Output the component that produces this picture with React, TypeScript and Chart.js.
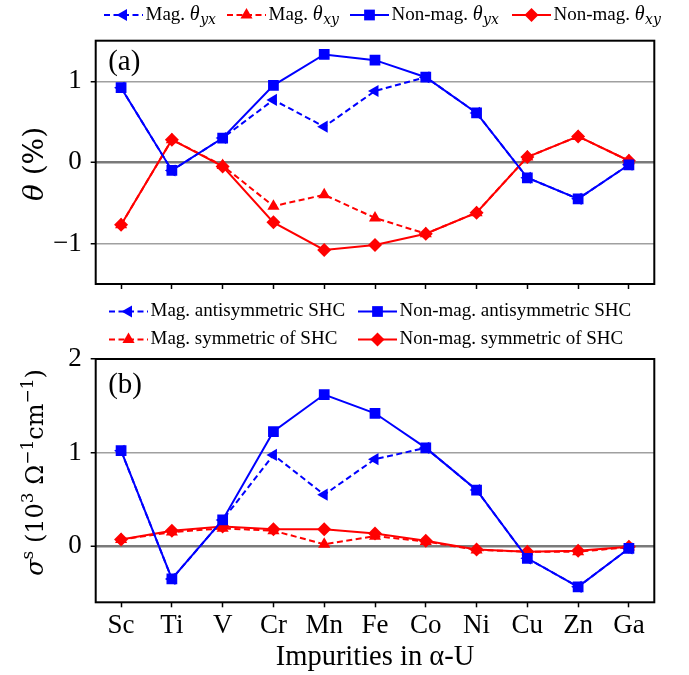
import React, { useEffect, useRef } from 'react';
import { Chart, registerables } from 'chart.js';

Chart.register(...registerables);

// ---------- data ----------
const categories = ['Sc', 'Ti', 'V', 'Cr', 'Mn', 'Fe', 'Co', 'Ni', 'Cu', 'Zn', 'Ga'];

// panel (a): theta (%)
const magThetaYX = [0.92, -0.1, 0.3, 0.77, 0.44, 0.88, 1.05, 0.61, -0.19, -0.45, -0.03];
const magThetaXY = [-0.77, 0.28, -0.04, -0.54, -0.4, -0.685, -0.88, -0.62, 0.066, 0.32, 0.02];
const nonMagThetaYX = [0.92, -0.1, 0.3, 0.95, 1.33, 1.26, 1.05, 0.61, -0.19, -0.45, -0.03];
const nonMagThetaXY = [-0.77, 0.28, -0.05, -0.74, -1.08, -1.02, -0.88, -0.62, 0.066, 0.32, 0.02];

// panel (b): SHC (10^3 Ohm^-1 cm^-1)
const magAntiSHC = [1.02, -0.35, 0.28, 0.975, 0.55, 0.93, 1.05, 0.6, -0.13, -0.435, -0.025];
const magSymSHC = [0.07, 0.15, 0.19, 0.165, 0.02, 0.107, 0.05, -0.04, -0.06, -0.06, -0.01];
const nonMagAntiSHC = [1.02, -0.35, 0.28, 1.225, 1.62, 1.42, 1.05, 0.6, -0.13, -0.435, -0.025];
const nonMagSymSHC = [0.07, 0.165, 0.21, 0.18, 0.18, 0.135, 0.057, -0.036, -0.06, -0.05, -0.007];

const thetaTicks = [-1, 0, 1];
const shcTicks = [0, 1, 2];

// ---------- styling ----------
const BLUE = '#0000ff';
const RED = '#ff0000';
const SERIF = '"Liberation Serif", "Times New Roman", serif';
const MATH = '"DejaVu Serif", serif';
const DASH = [6, 3.5];

type Seg = { t: string; it?: boolean; sub?: boolean; sup?: boolean; size?: number; fam?: string; gap?: number };

function ds(label: string, data: number[], color: string, dashed: boolean, pointStyle: string, rotation: number, radius: number, order: number) {
  return {
    label,
    data,
    borderColor: color,
    backgroundColor: color,
    borderWidth: 2,
    borderDash: dashed ? DASH : [],
    pointStyle,
    pointRotation: rotation,
    pointRadius: radius,
    pointHoverRadius: radius,
    pointBorderWidth: 0,
    pointBackgroundColor: color,
    pointBorderColor: color,
    tension: 0,
    fill: false,
    order,
    _dashed: dashed,
  } as any;
}

function drawRich(ctx: CanvasRenderingContext2D, segs: Seg[], x: number, y: number, size: number, family: string, align: 'left' | 'center') {
  const sizeOf = (s: Seg) => (s.size ? s.size : s.sub || s.sup ? Math.round(size * 0.7) : size);
  const fontFor = (s: Seg) => `${s.it ? 'italic ' : ''}${sizeOf(s)}px ${s.fam || family}`;
  let total = 0;
  const ws = segs.map((s) => {
    ctx.font = fontFor(s);
    const w = ctx.measureText(s.t).width + (s.gap || 0);
    total += w;
    return w;
  });
  let cx = align === 'center' ? x - total / 2 : x;
  ctx.textAlign = 'left';
  ctx.textBaseline = 'alphabetic';
  segs.forEach((s, i) => {
    ctx.font = fontFor(s);
    const dy = s.sub ? size * 0.24 : s.sup ? -size * 0.42 : 0;
    ctx.fillText(s.t, cx + (s.gap || 0), y + dy);
    cx += ws[i];
  });
}

function drawMarker(ctx: CanvasRenderingContext2D, style: string, rotDeg: number, r: number, x: number, y: number, color: string) {
  ctx.save();
  ctx.setLineDash([]);
  ctx.fillStyle = color;
  ctx.beginPath();
  if (style === 'rect') {
    const s = Math.SQRT1_2 * r;
    ctx.rect(x - s, y - s, 2 * s, 2 * s);
  } else if (style === 'rectRot') {
    ctx.moveTo(x - r, y);
    ctx.lineTo(x, y - r);
    ctx.lineTo(x + r, y);
    ctx.lineTo(x, y + r);
    ctx.closePath();
  } else {
    let rad = (rotDeg * Math.PI) / 180;
    ctx.moveTo(x + Math.sin(rad) * r, y - Math.cos(rad) * r);
    rad += (2 * Math.PI) / 3;
    ctx.lineTo(x + Math.sin(rad) * r, y - Math.cos(rad) * r);
    rad += (2 * Math.PI) / 3;
    ctx.lineTo(x + Math.sin(rad) * r, y - Math.cos(rad) * r);
    ctx.closePath();
  }
  ctx.fill();
  ctx.restore();
}

type LegendItem = { idx: number; x: number; y: number; segs: Seg[] };
type DecorCfg = {
  panel: string;
  panelBaseline: number;
  legend: LegendItem[];
  yTitle: Seg[];
  yTitleSize: number;
  yTitleX: number;
  yTitleCenter: number;
  xTitle?: string;
  xTitleBaseline?: number;
};

function decor(cfg: DecorCfg) {
  return {
    id: 'decor_' + cfg.panel,
    afterDraw(chart: any) {
      const ctx: CanvasRenderingContext2D = chart.ctx;
      const a = chart.chartArea;
      ctx.save();
      ctx.setLineDash([]);
      ctx.strokeStyle = '#000';
      ctx.lineWidth = 2;
      ctx.strokeRect(a.left, a.top, a.right - a.left, a.bottom - a.top);

      ctx.fillStyle = '#000';
      ctx.font = `29px ${SERIF}`;
      ctx.textAlign = 'left';
      ctx.textBaseline = 'alphabetic';
      ctx.fillText(cfg.panel, a.left + 12.5, cfg.panelBaseline);

      // legend
      cfg.legend.forEach((item) => {
        const d = chart.data.datasets[item.idx];
        ctx.save();
        ctx.strokeStyle = d.borderColor;
        ctx.lineWidth = 2;
        ctx.setLineDash(d._dashed ? DASH : []);
        ctx.beginPath();
        ctx.moveTo(item.x, item.y);
        ctx.lineTo(item.x + 39, item.y);
        ctx.stroke();
        ctx.restore();
        drawMarker(ctx, d.pointStyle, d.pointRotation, d.pointRadius, item.x + 19.5, item.y, d.borderColor);
        ctx.fillStyle = '#000';
        drawRich(ctx, item.segs, item.x + 41.5, item.y + 4.5, 19, SERIF, 'left');
      });

      // y title
      ctx.save();
      ctx.fillStyle = '#000';
      ctx.translate(cfg.yTitleX, cfg.yTitleCenter);
      ctx.rotate(-Math.PI / 2);
      drawRich(ctx, cfg.yTitle, 0, 0, cfg.yTitleSize, MATH, 'center');
      ctx.restore();

      if (cfg.xTitle) {
        ctx.fillStyle = '#000';
        ctx.font = `28.5px ${SERIF}`;
        ctx.textAlign = 'center';
        ctx.textBaseline = 'alphabetic';
        ctx.fillText(cfg.xTitle, (a.left + a.right) / 2, cfg.xTitleBaseline as number);
      }
      ctx.restore();
    },
  };
}

const minusFmt = (v: number) => (v < 0 ? '\u2212' + Math.abs(v) : String(v));

function yScale(min: number, max: number, ticks: number[]) {
  return {
    type: 'linear',
    min,
    max,
    afterBuildTicks: (s: any) => {
      s.ticks = ticks.map((v) => ({ value: v }));
    },
    afterFit: (s: any) => {
      s.width = 95.7;
    },
    border: { display: false },
    grid: {
      color: (c: any) => (c.tick && c.tick.value === 0 ? '#7a7a7a' : '#a0a0a0'),
      lineWidth: (c: any) => (c.tick && c.tick.value === 0 ? 2.5 : 1.5),
      drawTicks: true,
      tickLength: 5,
      tickWidth: 1.5,
      tickColor: '#000',
    },
    ticks: {
      font: { family: SERIF, size: 27 },
      color: '#000',
      padding: 9,
      callback: (v: any) => minusFmt(Number(v)),
    },
  };
}

function xScale(showLabels: boolean, height: number) {
  return {
    type: 'category',
    offset: true,
    afterFit: (s: any) => {
      s.height = height;
    },
    border: { display: false },
    grid: {
      display: true,
      drawOnChartArea: false,
      drawTicks: true,
      tickLength: 5,
      tickWidth: 1.5,
      tickColor: '#000',
      offset: false,
    },
    ticks: {
      display: showLabels,
      font: { family: SERIF, size: 27 },
      color: '#000',
      padding: 2,
      maxRotation: 0,
      autoSkip: false,
    },
  };
}

const thetaSub = (base: string, sub: string): Seg[] => [
  { t: base },
  { t: '\u03b8', it: true, size: 20 },
  { t: sub, it: true, sub: true, size: 14, fam: MATH, gap: 0.5 },
];

export default function App() {
  const refA = useRef<HTMLCanvasElement | null>(null);
  const refB = useRef<HTMLCanvasElement | null>(null);

  useEffect(() => {
    const chartA = new Chart(refA.current as HTMLCanvasElement, {
      type: 'line',
      data: {
        labels: categories,
        datasets: [
          ds('Non-mag. θyx', nonMagThetaYX, BLUE, false, 'rect', 0, 7.6, 0),
          ds('Non-mag. θxy', nonMagThetaXY, RED, false, 'rectRot', 0, 7, 1),
          ds('Mag. θyx', magThetaYX, BLUE, true, 'triangle', -90, 7, 2),
          ds('Mag. θxy', magThetaXY, RED, true, 'triangle', 0, 7, 3),
        ],
      },
      options: {
        animation: false,
        responsive: false,
        devicePixelRatio: 1,
        events: [],
        layout: { padding: { top: 40.7, left: 0, right: 34.7, bottom: 675 - 284 - 10 }, autoPadding: false } as any,
        plugins: { legend: { display: false }, tooltip: { enabled: false } },
        scales: {
          x: xScale(false, 10) as any,
          y: yScale(-1.5, 1.5, thetaTicks) as any,
        },
      },
      plugins: [
        decor({
          panel: '(a)',
          panelBaseline: 70,
          legend: [
            { idx: 2, x: 104, y: 15, segs: thetaSub('Mag. ', 'yx') },
            { idx: 3, x: 227, y: 15, segs: thetaSub('Mag. ', 'xy') },
            { idx: 0, x: 350, y: 15, segs: thetaSub('Non-mag. ', 'yx') },
            { idx: 1, x: 512, y: 15, segs: thetaSub('Non-mag. ', 'xy') },
          ],
          yTitle: [{ t: '\u03b8', it: true }, { t: ' (%)' }],
          yTitleSize: 28,
          yTitleX: 42.5,
          yTitleCenter: 164,
        }) as any,
      ],
    });

    const chartB = new Chart(refB.current as HTMLCanvasElement, {
      type: 'line',
      data: {
        labels: categories,
        datasets: [
          ds('Non-mag. antisymmetric SHC', nonMagAntiSHC, BLUE, false, 'rect', 0, 7.6, 0),
          ds('Non-mag. symmetric of SHC', nonMagSymSHC, RED, false, 'rectRot', 0, 7, 1),
          ds('Mag. antisymmetric SHC', magAntiSHC, BLUE, true, 'triangle', -90, 7, 2),
          ds('Mag. symmetric of SHC', magSymSHC, RED, true, 'triangle', 0, 7, 3),
        ],
      },
      options: {
        animation: false,
        responsive: false,
        devicePixelRatio: 1,
        events: [],
        layout: { padding: { top: 359, left: 0, right: 34.7, bottom: 0 }, autoPadding: false } as any,
        plugins: { legend: { display: false }, tooltip: { enabled: false } },
        scales: {
          x: xScale(true, 675 - 602.3) as any,
          y: yScale(-0.6, 2, shcTicks) as any,
        },
      },
      plugins: [
        decor({
          panel: '(b)',
          panelBaseline: 393,
          legend: [
            { idx: 2, x: 109, y: 311.5, segs: [{ t: 'Mag. antisymmetric SHC' }] },
            { idx: 0, x: 358, y: 311.5, segs: [{ t: 'Non-mag. antisymmetric SHC' }] },
            { idx: 3, x: 109, y: 339.5, segs: [{ t: 'Mag. symmetric of SHC' }] },
            { idx: 1, x: 358, y: 339.5, segs: [{ t: 'Non-mag. symmetric of SHC' }] },
          ],
          yTitle: [
            { t: '\u03c3', it: true },
            { t: 's', sup: true },
            { t: ' (10' },
            { t: '3', sup: true },
            { t: ' \u03a9' },
            { t: '\u22121', sup: true },
            { t: 'cm' },
            { t: '\u22121', sup: true },
            { t: ')' },
          ],
          yTitleSize: 24,
          yTitleX: 43,
          yTitleCenter: 472.5,
          xTitle: 'Impurities in \u03b1-U',
          xTitleBaseline: 665,
        }) as any,
      ],
    });

    return () => {
      chartA.destroy();
      chartB.destroy();
    };
  }, []);

  const canvasStyle: React.CSSProperties = { position: 'absolute', left: 0, top: 0, width: 689, height: 675 };
  return (
    <div style={{ position: 'absolute', left: 0, top: 0, width: 689, height: 675, background: '#fff', overflow: 'hidden' }}>
      <canvas ref={refA} width={689} height={675} style={canvasStyle} />
      <canvas ref={refB} width={689} height={675} style={canvasStyle} />
    </div>
  );
}
